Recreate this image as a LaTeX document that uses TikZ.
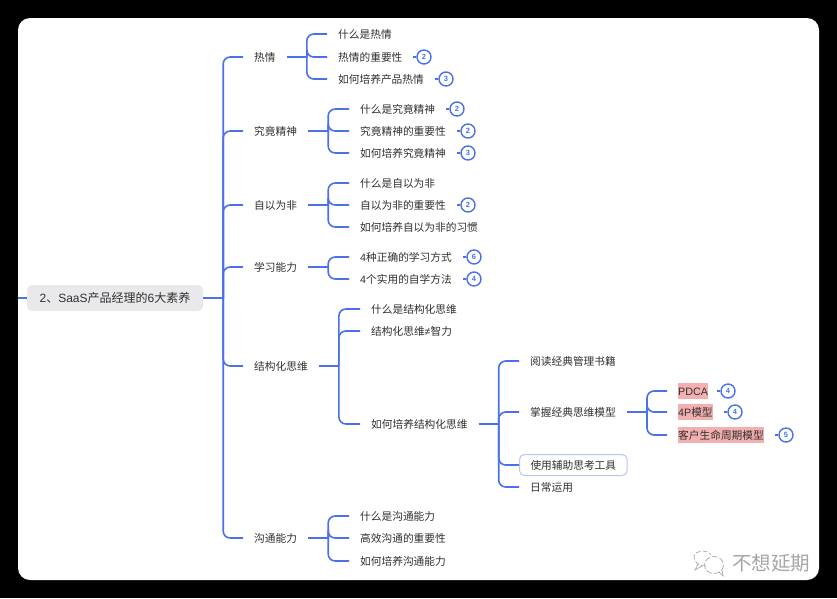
\documentclass[tikz,border=0pt]{standalone}
\usepackage{fontspec}
\setmainfont{Noto Sans CJK SC}
\newfontfamily\lat{Liberation Sans}
\definecolor{linkblue}{HTML}{4A70EA}
\definecolor{inktext}{HTML}{303030}
\definecolor{rootgray}{HTML}{E9E9EB}
\definecolor{hilite}{HTML}{F4B0B0}
\definecolor{boxblue}{HTML}{B9C6F2}
\definecolor{markgray}{HTML}{A6A6A6}
\tikzset{
  x=1pt,y=-1pt,
  conn/.style={draw=linkblue,line width=1.6pt},
  item/.style={anchor=west,inner xsep=11pt,inner ysep=0pt,text height=9.5pt,text depth=1pt,font=\fontsize{10.7}{12}\selectfont,text=inktext},
  marked/.style={item,inner xsep=0pt,fill=hilite,minimum height=16.5pt},
  boxed/.style={item,draw=boxblue,line width=1pt,rounded corners=5pt,fill=white,minimum height=21pt},
  badge/.style={circle,draw=linkblue,line width=1.4pt,fill=white,minimum size=14pt,inner sep=0pt,text=linkblue,font=\fontsize{7.5}{8}\selectfont\bfseries\lat},
  wmline/.style={draw=markgray,line width=0.7pt},
}
\newcommand{\kids}[3]{%
  \draw[conn] (#1.east) -- ([xshift=#2pt]#1.east);
  \foreach \c in {#3}{\draw[conn,rounded corners=7pt] ([xshift=#2pt]#1.east) |- (\c.west);}
}
\newcommand{\markkid}[3]{%
  \draw[conn,rounded corners=7pt,shorten >=11pt] ([xshift=#2pt]#1.east) |- (#3.west);
}
\newcommand{\tag}[4]{%
  \node[badge] (#1) at (#2,#3) {#4};
  \draw[draw=linkblue,line width=1.3pt] (#1.west) -- ++(-3.5,0);
}
\begin{document}
\begin{tikzpicture}
\useasboundingbox (0,0) rectangle (837,598);
\fill[black] (0,0) rectangle (837,598);
\fill[white,rounded corners=12pt] (18,18) rectangle (819,580);

\node[fill=rootgray,rounded corners=5pt,minimum width=176pt,minimum height=26pt,inner sep=0pt,text=inktext,text height=10pt,text depth=1.4pt,font=\fontsize{12}{14}\selectfont] (root) at (115,298) {{\lat 2}、{\lat SaaS}产品经理的{\lat 6}大素养};
\coordinate (lead) at (18,298);
\draw[conn] (lead) -- (root.west);

\node[item] (a) at (243,57) {热情};
\node[item] (b) at (243,131) {究竟精神};
\node[item] (c) at (243,205) {自以为非};
\node[item] (d) at (243,267) {学习能力};
\node[item] (e) at (243,366) {结构化思维};
\node[item] (f) at (243,538) {沟通能力};

\node[item] (a1) at (327,34) {什么是热情};
\node[item] (a2) at (327,57) {热情的重要性};
\node[item] (a3) at (327,79) {如何培养产品热情};
\node[item] (b1) at (349,109) {什么是究竟精神};
\node[item] (b2) at (349,131) {究竟精神的重要性};
\node[item] (b3) at (349,153) {如何培养究竟精神};
\node[item] (c1) at (349,183) {什么是自以为非};
\node[item] (c2) at (349,205) {自以为非的重要性};
\node[item] (c3) at (349,227) {如何培养自以为非的习惯};
\node[item] (d1) at (349,257) {{\lat 4}种正确的学习方式};
\node[item] (d2) at (349,279) {{\lat 4}个实用的自学方法};
\node[item] (e1) at (360,309) {什么是结构化思维};
\node[item] (e2) at (360,331) {结构化思维{\lat ≠}智力};
\node[item] (e3) at (360,424) {如何培养结构化思维};
\node[item] (f1) at (349,516) {什么是沟通能力};
\node[item] (f2) at (349,538) {高效沟通的重要性};
\node[item] (f3) at (349,561) {如何培养沟通能力};

\node[item] (g1) at (519,361) {阅读经典管理书籍};
\node[item] (g2) at (519,412) {掌握经典思维模型};
\node[boxed] (g3) at (519,465) {使用辅助思考工具};
\node[item] (g4) at (519,487) {日常运用};

\node[marked] (h1) at (678,391) {\lat PDCA};
\node[marked] (h2) at (678,412) {{\lat 4P}模型};
\node[marked] (h3) at (678,435) {客户生命周期模型};

\kids{root}{20}{a,b,c,d,e,f}
\kids{a}{20}{a1,a2,a3}
\kids{b}{20}{b1,b2,b3}
\kids{c}{20}{c1,c2,c3}
\kids{d}{20}{d1,d2}
\kids{e}{20}{e1,e2,e3}
\kids{f}{20}{f1,f2,f3}
\kids{e3}{20}{g1,g2,g3,g4}
\draw[conn] (g2.east) -- ([xshift=20pt]g2.east);
\markkid{g2}{20}{h1}
\markkid{g2}{20}{h2}
\markkid{g2}{20}{h3}

\tag{t1}{424}{57}{2}
\tag{t2}{446}{79}{3}
\tag{t3}{457}{109}{2}
\tag{t4}{468}{131}{2}
\tag{t5}{468}{153}{3}
\tag{t6}{468}{205}{2}
\tag{t7}{474}{257}{6}
\tag{t8}{474}{279}{4}
\tag{t9}{728}{391}{4}
\tag{t10}{735}{412}{4}
\tag{t11}{786}{435}{5}

% watermark: two chat bubbles and the account name
\draw[wmline,dash pattern=on 5pt off 2pt] (706,566) .. controls (698,566) and (694,561) .. (694,557) .. controls (694,553) and (699,551) .. (703,551) .. controls (706,551) and (709,552) .. (711,555);
\draw[wmline] (698,564) -- (695,570) -- (702,566);
\draw[wmline,dash pattern=on 6pt off 2pt] (714,565) ellipse [x radius=9.5,y radius=8.5];
\draw[wmline] (719,572) -- (723,576) -- (722,570);
\node[text=markgray,font=\fontsize{19.5}{21}\selectfont,inner sep=0pt] (wm) at (771,563) {不想延期};
\end{tikzpicture}
\end{document}
